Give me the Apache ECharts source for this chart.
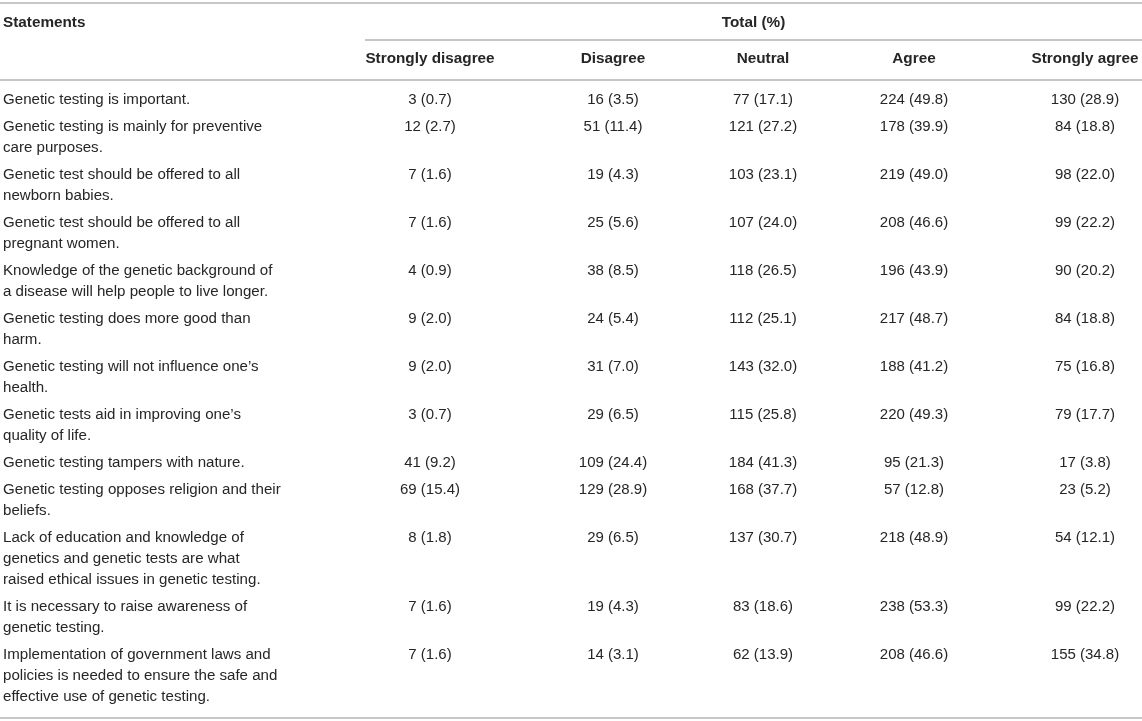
<!DOCTYPE html>
<html>
<head>
<meta charset="utf-8">
<script src="https://cdn.jsdelivr.net/npm/echarts@6/dist/echarts.min.js"></script>
<style>
  html, body { margin: 0; padding: 0; background: #fff; }
  #table { width: 1142px; height: 721px; }
</style>
</head>
<body>
<div id="table"></div>
<script>
// table content
var headers = ['Strongly disagree', 'Disagree', 'Neutral', 'Agree', 'Strongly agree'];
var statements = [
  'Genetic testing is important.',
  'Genetic testing is mainly for preventive\ncare purposes.',
  'Genetic test should be offered to all\nnewborn babies.',
  'Genetic test should be offered to all\npregnant women.',
  'Knowledge of the genetic background of\na disease will help people to live longer.',
  'Genetic testing does more good than\nharm.',
  'Genetic testing will not influence one\u2019s\nhealth.',
  'Genetic tests aid in improving one\u2019s\nquality of life.',
  'Genetic testing tampers with nature.',
  'Genetic testing opposes religion and their\nbeliefs.',
  'Lack of education and knowledge of\ngenetics and genetic tests are what\nraised ethical issues in genetic testing.',
  'It is necessary to raise awareness of\ngenetic testing.',
  'Implementation of government laws and\npolicies is needed to ensure the safe and\neffective use of genetic testing.'
];
var sdN = [3, 12, 7, 7, 4, 9, 9, 3, 41, 69, 8, 7, 7];
var sdP = [0.7, 2.7, 1.6, 1.6, 0.9, 2.0, 2.0, 0.7, 9.2, 15.4, 1.8, 1.6, 1.6];
var dN  = [16, 51, 19, 25, 38, 24, 31, 29, 109, 129, 29, 19, 14];
var dP  = [3.5, 11.4, 4.3, 5.6, 8.5, 5.4, 7.0, 6.5, 24.4, 28.9, 6.5, 4.3, 3.1];
var nN  = [77, 121, 103, 107, 118, 112, 143, 115, 184, 168, 137, 83, 62];
var nP  = [17.1, 27.2, 23.1, 24.0, 26.5, 25.1, 32.0, 25.8, 41.3, 37.7, 30.7, 18.6, 13.9];
var aN  = [224, 178, 219, 208, 196, 217, 188, 220, 95, 57, 218, 238, 208];
var aP  = [49.8, 39.9, 49.0, 46.6, 43.9, 48.7, 41.2, 49.3, 21.3, 12.8, 48.9, 53.3, 46.6];
var saN = [130, 84, 98, 99, 90, 84, 75, 79, 17, 23, 54, 99, 155];
var saP = [28.9, 18.8, 22.0, 22.2, 20.2, 18.8, 16.8, 17.7, 3.8, 5.2, 12.1, 22.2, 34.8];

// layout
var W = 1142, H = 721;
var colX = [430, 613, 763, 914, 1085];
var textX = 3;
var lineH = 21, rowGap = 27, firstRowY = 100;
var textColor = '#262626', ruleColor = '#b4b4b4';
var font = '"Liberation Sans", Arial, sans-serif';

var counts = [sdN, dN, nN, aN, saN];
var pcts = [sdP, dP, nP, aP, saP];

// row positions from the number of wrapped lines
var rowY = [];
var y = firstRowY;
statements.forEach(function (s, i) {
  rowY.push(y);
  y += lineH * (s.split('\n').length - 1) + rowGap;
});
var lastLines = statements[statements.length - 1].split('\n').length;
var bottomY = rowY[rowY.length - 1] + lineH * (lastLines - 1) + lineH;

var cells = [];
cells.push({ x: textX, y: 22.5, text: 'Statements', bold: true, align: 'left' });
cells.push({ x: (365 + W) / 2, y: 22.5, text: 'Total (%)', bold: true, align: 'center' });
headers.forEach(function (h, j) {
  cells.push({ x: colX[j], y: 59, text: h, bold: true, align: 'center' });
});
statements.forEach(function (s, i) {
  cells.push({ x: textX, y: rowY[i], text: s, bold: false, align: 'left', size: 15.1 });
  for (var j = 0; j < 5; j++) {
    cells.push({ x: colX[j], y: rowY[i], text: counts[j][i] + ' (' + pcts[j][i].toFixed(1) + ')', bold: false, align: 'center' });
  }
});

var rules = [
  [0, W, 3],
  [365, W, 40],
  [0, W, 80],
  [0, W, bottomY]
];

var chart = echarts.init(document.getElementById('table'));
chart.setOption({
  animation: false,
  backgroundColor: '#fff',
  grid: { left: 0, right: 0, top: 0, bottom: 0 },
  xAxis: { type: 'value', min: 0, max: W, show: false },
  yAxis: { type: 'value', min: 0, max: H, inverse: true, show: false },
  series: [{
    type: 'custom',
    silent: true,
    clip: false,
    data: rules,
    renderItem: function (params, api) {
      var p1 = api.coord([api.value(0), api.value(2)]);
      var p2 = api.coord([api.value(1), api.value(2)]);
      return {
        type: 'line',
        shape: { x1: p1[0], y1: p1[1], x2: p2[0], y2: p2[1] },
        style: { stroke: ruleColor, lineWidth: 1.5 }
      };
    }
  }, {
    type: 'custom',
    silent: true,
    clip: false,
    data: cells.map(function (c) { return [c.x, c.y]; }),
    renderItem: function (params, api) {
      var c = cells[params.dataIndex];
      var p = api.coord([api.value(0), api.value(1)]);
      return {
        type: 'text',
        x: p[0],
        y: p[1] - lineH / 2,
        style: {
          text: c.text,
          fill: textColor,
          fontFamily: font,
          fontSize: c.bold ? 15.3 : (c.size || 15),
          fontWeight: c.bold ? 'bold' : 'normal',
          align: c.align,
          verticalAlign: 'top',
          lineHeight: lineH
        }
      };
    }
  }]
});
</script>
</body>
</html>
